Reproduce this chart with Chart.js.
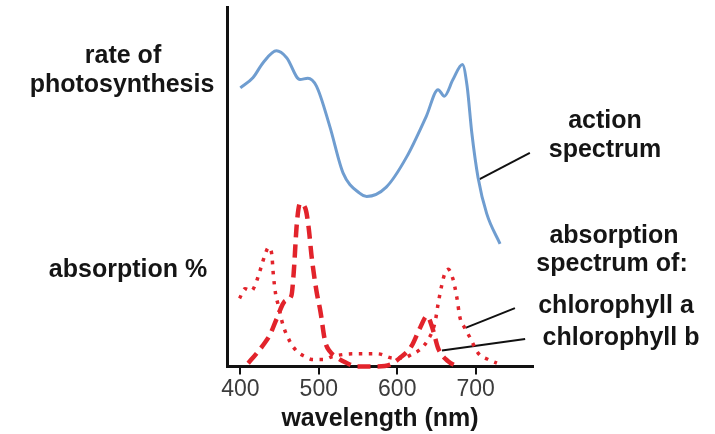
<!DOCTYPE html>
<html>
<head>
<meta charset="utf-8">
<script src="https://cdn.jsdelivr.net/npm/chart.js@4.4.1/dist/chart.umd.min.js"></script>
<style>
  html, body { margin: 0; padding: 0; background: #fff; }
</style>
</head>
<body>
<canvas id="spectrum-chart" width="715" height="434"></canvas>
<script>
// wavelength axis ticks (nm)
const xTicks = [400, 500, 600, 700];

// action spectrum (relative rate of photosynthesis)
const actionWl  = [400, 416, 429, 446, 459, 476, 486, 497, 514, 531, 552, 561, 586, 612, 637, 652, 660, 671, 683, 689, 695, 703, 714, 731];
const actionVal = [77.5, 80.3, 84.5, 87.8, 85.9, 79.8, 80.2, 78, 66.8, 53.8, 48.2, 47.3, 49.9, 58.3, 69.6, 77, 75.2, 79.8, 84, 78, 65, 52.5, 42.5, 34.1];

// chlorophyll a absorption (dotted)
const chlAWl  = [399, 406, 414, 419, 423, 427, 431, 436, 440, 442, 445, 448, 454, 463, 472, 482, 493, 506, 518, 545, 575, 595, 608, 618, 629, 638, 648, 652, 657, 661, 665, 671, 676, 680, 686, 693, 703, 716, 727];
const chlAVal = [18.9, 21.6, 21, 22.7, 25.2, 28, 30.8, 33.1, 31.3, 25.7, 20.1, 17.3, 11.8, 7, 4.2, 2.8, 1.9, 1.9, 2.8, 3.5, 3.5, 2.3, 2.3, 3.3, 4.7, 7, 12.1, 17.3, 22.9, 26.1, 27, 24.3, 19.1, 13.5, 10.7, 7.9, 3.7, 1.9, 0.9];

// chlorophyll b absorption (dashed)
const chlBWl  = [410, 421, 431, 438, 446, 457, 465, 468, 472, 476, 483, 487, 491, 497, 502, 508, 514, 523, 535, 548, 575, 591, 603, 618, 629, 638, 646, 652, 665, 676];
const chlBVal = [0.9, 3.7, 6.5, 8.9, 13.1, 18.2, 19.6, 26, 39.7, 45.3, 43.9, 38.7, 30.3, 21, 15.4, 7, 4.2, 2.5, 1, 0, 0, 0.5, 2.3, 5.6, 10.7, 14, 9.8, 5.1, 1.4, 0];

// leader lines from the labels to the curves: [wavelength, value]
const actionPointer = [[705, 52.1], [769, 59.4]];
const chlAPointer   = [[687, 10.7], [750, 16.2]];
const chlBPointer   = [[657, 4.4], [763, 7.6]];

const toPoints = (xs, ys) => xs.map((x, i) => ({ x: x, y: ys[i] }));
const pairPoints = (pairs) => pairs.map(p => ({ x: p[0], y: p[1] }));

const RED = '#e2232b';
const BLUE = '#6f9dd0';
const LABEL_FONT = 'bold 25px "Liberation Sans", Arial, sans-serif';

// free text labels around the plot (canvas pixel positions)
const sideLabels = [
  { text: 'rate of', x: 123, y: 63 },
  { text: 'photosynthesis', x: 122, y: 92 },
  { text: 'absorption %', x: 128, y: 277 },
  { text: 'action', x: 605, y: 128 },
  { text: 'spectrum', x: 605, y: 157 },
  { text: 'absorption', x: 614, y: 243 },
  { text: 'spectrum of:', x: 612, y: 271 },
  { text: 'chlorophyll a', x: 616, y: 313 },
  { text: 'chlorophyll b', x: 621, y: 345 }
];

const labelPlugin = {
  id: 'sideLabels',
  afterDraw(chart) {
    const ctx = chart.ctx;
    ctx.save();
    ctx.font = LABEL_FONT;
    ctx.fillStyle = '#151515';
    ctx.textAlign = 'center';
    ctx.textBaseline = 'alphabetic';
    sideLabels.forEach(l => ctx.fillText(l.text, l.x, l.y));
    ctx.restore();
  }
};

const pointerStyle = {
  type: 'line',
  borderColor: '#111',
  borderWidth: 2,
  pointRadius: 0,
  showLine: true,
  clip: false
};

new Chart(document.getElementById('spectrum-chart'), {
  type: 'scatter',
  data: {
    datasets: [
      {
        label: 'action spectrum',
        data: toPoints(actionWl, actionVal),
        showLine: true,
        borderColor: BLUE,
        borderWidth: 3,
        pointRadius: 0,
        cubicInterpolationMode: 'monotone'
      },
      {
        label: 'chlorophyll a',
        data: toPoints(chlAWl, chlAVal),
        showLine: true,
        borderColor: RED,
        borderWidth: 3.5,
        borderDash: [3.5, 6.5],
        pointRadius: 0,
        cubicInterpolationMode: 'monotone',
        clip: false
      },
      {
        label: 'chlorophyll b',
        data: toPoints(chlBWl, chlBVal),
        showLine: true,
        borderColor: RED,
        borderWidth: 4.5,
        borderDash: [13, 7],
        pointRadius: 0,
        cubicInterpolationMode: 'monotone',
        clip: false
      },
      Object.assign({ data: pairPoints(actionPointer) }, pointerStyle),
      Object.assign({ data: pairPoints(chlAPointer) }, pointerStyle),
      Object.assign({ data: pairPoints(chlBPointer) }, pointerStyle)
    ]
  },
  options: {
    responsive: false,
    animation: false,
    layout: { padding: { left: 219, right: 182, top: 7, bottom: 0 } },
    plugins: {
      legend: { display: false },
      tooltip: { enabled: false }
    },
    scales: {
      x: {
        type: 'linear',
        min: 383,
        max: 773,
        afterBuildTicks: (axis) => { axis.ticks = xTicks.map(v => ({ value: v })); },
        grid: { drawOnChartArea: false, color: '#111', lineWidth: 2, tickLength: 8 },
        border: { display: true, color: '#111', width: 3 },
        ticks: {
          color: '#3c3c3c',
          padding: 1,
          font: { size: 23, family: '"Liberation Sans", Arial, sans-serif' }
        },
        title: {
          display: true,
          text: 'wavelength (nm)',
          color: '#151515',
          padding: { top: 0, bottom: 0 },
          font: { size: 25, weight: 'bold', family: '"Liberation Sans", Arial, sans-serif' }
        }
      },
      y: {
        min: 0,
        max: 100,
        grid: { display: false },
        border: { display: true, color: '#111', width: 3 },
        ticks: { display: false }
      }
    }
  },
  plugins: [labelPlugin]
});
</script>
</body>
</html>
